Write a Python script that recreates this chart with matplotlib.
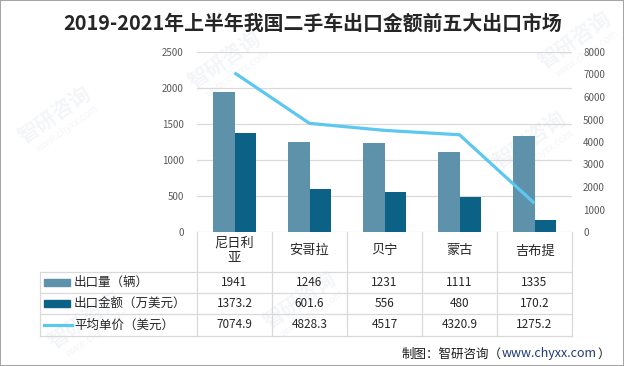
import matplotlib.pyplot as plt
import numpy as np
from matplotlib.patches import Rectangle

plt.rcParams['font.family'] = ['Noto Sans CJK SC', 'DejaVu Sans']

markets = ['尼日利\n亚', '安哥拉', '贝宁', '蒙古', '吉布提']
volume = [1941, 1246, 1231, 1111, 1335]
amount = [1373.2, 601.6, 556, 480, 170.2]
avg_price = [7074.9, 4828.3, 4517, 4320.9, 1275.2]
series_names = ['出口量（辆）', '出口金额（万美元）', '平均单价（美元）']

W, H = 624, 366
C_VOL = '#5E92AA'
C_AMT = '#0C6186'
C_LINE = '#5CC8F2'
C_GRID = '#D9D9D9'


def fx(px):
    return px / W


def fy(py):
    return 1 - py / H


fig = plt.figure(figsize=(W / 100, H / 100), dpi=100)

# === TABLE GRID (pixel coords) ===
tax = fig.add_axes([0, 0, 1, 1], zorder=0)
tax.set_xlim(0, W)
tax.set_ylim(H, 0)
tax.axis('off')

# === WATERMARKS ===
for wx, wy in [(225, 60), (300, 300), (530, 140), (575, 40), (55, 115), (85, 320)]:
    tax.text(wx, wy, '智研咨询', rotation=35, ha='center', va='center',
             fontsize=15, fontweight='bold', color='#DDE4EC', alpha=0.35, zorder=0)
    tax.text(wx + 12, wy + 14, 'www.chyxx.com', rotation=35, ha='center', va='center',
             fontsize=7, color='#DDE4EC', alpha=0.35, zorder=0)

col0, colw = 197, 75
rows = [232, 271.7, 292.7, 314, 336]
n = len(markets)
right = col0 + n * colw
for y in rows[1:]:
    tax.plot([40, right], [y, y], color=C_GRID, lw=0.9)
tax.plot([40, 40], [rows[1], rows[-1]], color=C_GRID, lw=0.9)
for i in range(n + 1):
    tax.plot([col0 + i * colw] * 2, [rows[0], rows[-1]], color=C_GRID, lw=0.9)

# === BARS + LINE ===
ax = fig.add_axes([fx(col0), fy(232), (right - col0) / W, (232 - 52) / H], zorder=2)
x = np.arange(n)
bw = 0.287
ax.bar(x - bw / 2, volume, bw, color=C_VOL, zorder=2)
ax.bar(x + bw / 2, amount, bw, color=C_AMT, zorder=2)
ax.set_xlim(-0.5, n - 0.5)
ax.set_ylim(0, 2500)
ax.set_yticks(range(0, 2501, 500))
ax.set_xticks([])
ax.grid(axis='y', color=C_GRID, lw=0.9)
ax.set_axisbelow(True)
ax.tick_params(axis='y', length=0, labelsize=7, colors='#595959', pad=9.5)
for s in ax.spines.values():
    s.set_visible(False)
ax.patch.set_alpha(0)

ax2 = ax.twinx()
ax2.plot(x, avg_price, color=C_LINE, lw=2.3, solid_capstyle='butt')
ax2.set_ylim(0, 8000)
ax2.set_yticks(range(0, 8001, 1000))
ax2.tick_params(axis='y', length=0, labelsize=7, colors='#595959', pad=8)
for s in ax2.spines.values():
    s.set_visible(False)

# === TABLE TEXT ===
centers = [col0 + colw * (i + 0.5) for i in range(n)]
for cx, name in zip(centers, markets):
    tax.text(cx, (rows[0] + rows[1]) / 2 - 1, name, ha='center', va='center',
             fontsize=9.5, color='#262626', linespacing=1.25)

series_vals = [volume, amount, avg_price]
for r, (label, vals) in enumerate(zip(series_names, series_vals)):
    cy = (rows[r + 1] + rows[r + 2]) / 2
    for cx, v in zip(centers, vals):
        tax.text(cx, cy, f'{v:g}', ha='center', va='center', fontsize=8.5, color='#262626')
    tax.text(74, cy, label, ha='left', va='center', fontsize=9, color='#262626')

tax.add_patch(Rectangle((44, 279), 26, 7, color=C_VOL))
tax.add_patch(Rectangle((44, 300), 26, 7, color=C_AMT))
tax.plot([44, 72], [325, 325], color=C_LINE, lw=2.3)

# === TITLE / SOURCE ===
fig.text(fx(313), fy(23), '2019-2021年上半年我国二手车出口金额前五大出口市场',
         ha='center', va='center', fontsize=14.3, fontweight='bold', color='#262626')

fig.canvas.draw()
renderer = fig.canvas.get_renderer()
xpos = 402
for txt, col in [('制图：智研咨询（', '#1A1A1A'), ('www.chyxx.com', '#1F3A78'), ('）', '#1A1A1A')]:
    t = tax.text(xpos, 354, txt, ha='left', va='center', fontsize=9, color=col)
    xpos = tax.transData.inverted().transform(
        (t.get_window_extent(renderer).x1, 0))[0]

fig.patches.append(Rectangle((0, 0), 1, 1, transform=fig.transFigure, fill=False,
                             ec='#A6A6A6', lw=1.5))

fig.savefig('out.png', dpi=100)
